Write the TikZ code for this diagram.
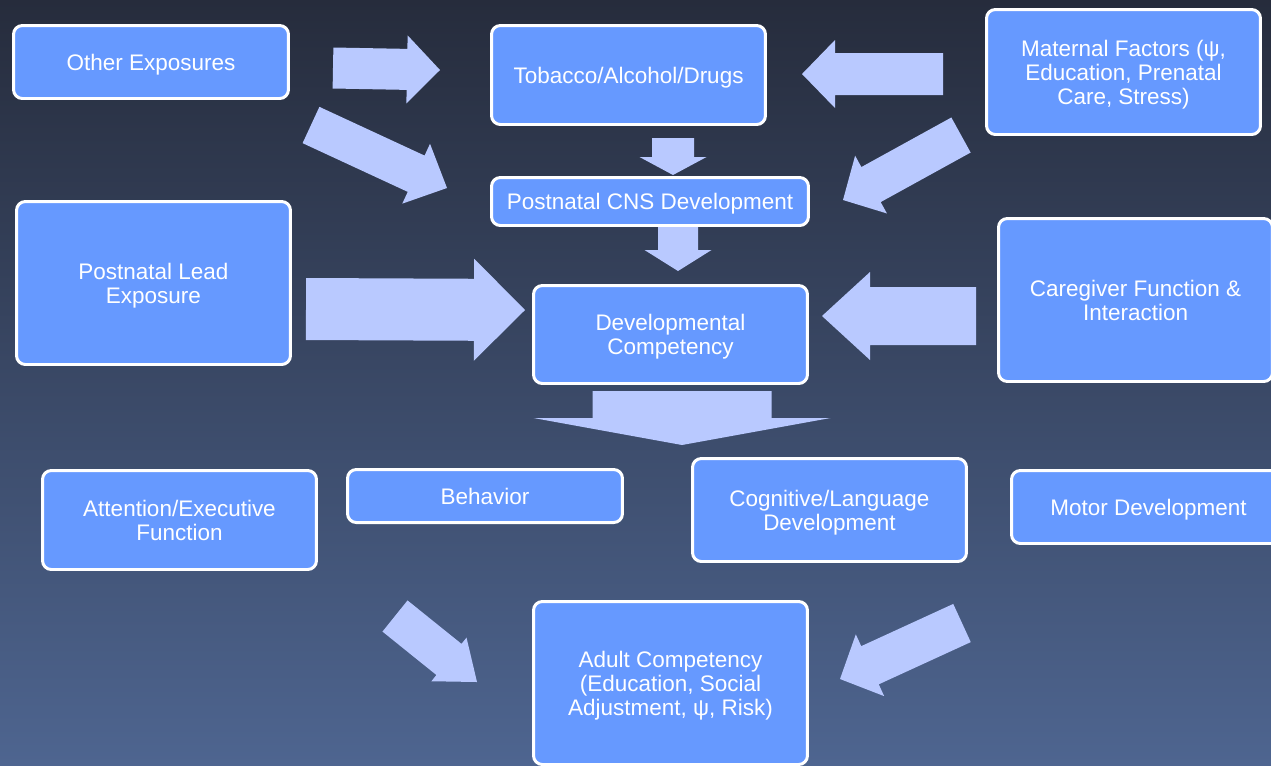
\documentclass[tikz,border=0pt]{standalone}
\usepackage{fontspec}
\setmainfont{Liberation Sans}
\usepackage{tikz}
\usetikzlibrary{calc}
\definecolor{kastenblau}{RGB}{102,153,255}
\definecolor{pfeilblau}{RGB}{185,201,255}
\definecolor{nachtblau}{RGB}{38,44,60}
\definecolor{graublau}{RGB}{78,101,144}

% Blockpfeil: Start, Spitze, halbe Schaftbreite, halbe Kopfbreite, Kopflaenge (alles in px)
\newcommand{\blockpfeil}[5]{%
  \coordinate (kb) at ($(#2)!#5*0.02cm!(#1)$);
  \fill[pfeilblau] ($(#1)!#3*0.02cm!90:(#2)$) -- ($(kb)!#3*0.02cm!90:(#2)$)
    -- ($(kb)!#4*0.02cm!90:(#2)$) -- (#2) -- ($(kb)!#4*0.02cm!-90:(#2)$)
    -- ($(kb)!#3*0.02cm!-90:(#2)$) -- ($(#1)!#3*0.02cm!-90:(#2)$) -- cycle;
}

\tikzset{kasten/.style={draw=white, line width=1.7pt, fill=kastenblau, rounded corners=5pt,
  text=white, align=center, inner sep=0pt, minimum width=5.48cm, text depth=0pt,
  font=\fontsize{12.8}{13.6}\selectfont}}

\begin{document}
\begin{tikzpicture}[x=0.02cm, y=-0.02cm]
        % Hintergrund
        \useasboundingbox (0,0) rectangle (1271,765);
        \clip (0,0) rectangle (1271,765);
        \shade[top color=nachtblau, bottom color=graublau] (0,0) rectangle (1271,765);

        % Pfeile oben
        \blockpfeil{333,68}{440,70}{20.5}{34}{33}      % Other Exposures -> Tobacco
        \blockpfeil{311,125}{447,188}{20}{33}{34}      % Other Exposures -> CNS
        \blockpfeil{943,74}{802,74}{21}{34}{33}        % Maternal -> Tobacco
        \blockpfeil{961,135}{843,200}{20}{33}{32}      % Maternal -> CNS
        \blockpfeil{673,138}{673,175}{21}{33.5}{18}    % Tobacco -> CNS
        \blockpfeil{678,227}{678,271}{20}{33.5}{21}    % CNS -> Competency

        % Pfeile Mitte
        \blockpfeil{306,309}{525,310}{31}{51}{51}      % Lead -> Competency
        \blockpfeil{976,316}{822,316}{29}{44}{48}      % Caregiver -> Competency
        \blockpfeil{682,391}{682,445}{89.5}{148.5}{27} % grosser Pfeil nach unten

        % Pfeile unten
        \blockpfeil{395,616}{477,682}{20}{28}{36}      % Attention -> Adult
        \blockpfeil{962,623}{840,679}{21}{34}{33}      % Motor -> Adult

        % Kaesten
        \node[kasten, minimum width=5.5cm, minimum height=1.46cm] (andere) at (151,62) {Other Exposures};
        \node[kasten, minimum height=1.98cm] (tabak) at (628.5,75) {Tobacco/Alcohol/Drugs};
        \node[kasten, minimum height=2.5cm] (mutter) at (1123.5,72) {Maternal Factors (ψ,\\Education, Prenatal\\Care, Stress)};
        \node[kasten, minimum width=6.34cm, minimum height=0.96cm] (zns) at (650,201.5) {Postnatal CNS Development};
        \node[kasten, minimum height=3.26cm] (blei) at (153.5,283) {Postnatal Lead\\Exposure};
        \node[kasten, minimum height=1.96cm] (entw) at (670.5,334.5) {Developmental\\Competency};
        \node[kasten, minimum height=3.26cm] (pflege) at (1135.5,300) {Caregiver Function \&\\Interaction};

        % Ergebnisse
        \node[kasten, minimum height=1.98cm] (aufm) at (179.5,520) {Attention/Executive\\Function};
        \node[kasten, minimum width=5.5cm, minimum height=1.06cm] (verhalten) at (485,496) {Behavior};
        \node[kasten, minimum height=2.06cm] (kogn) at (829.5,510) {Cognitive/Language\\Development};
        \node[kasten, minimum height=1.46cm] (motorik) at (1148.5,507) {Motor Development};
        \node[kasten, minimum height=3.26cm] (erwachsen) at (670.5,683) {Adult Competency\\(Education, Social\\Adjustment, ψ, Risk)};
\end{tikzpicture}
\end{document}
